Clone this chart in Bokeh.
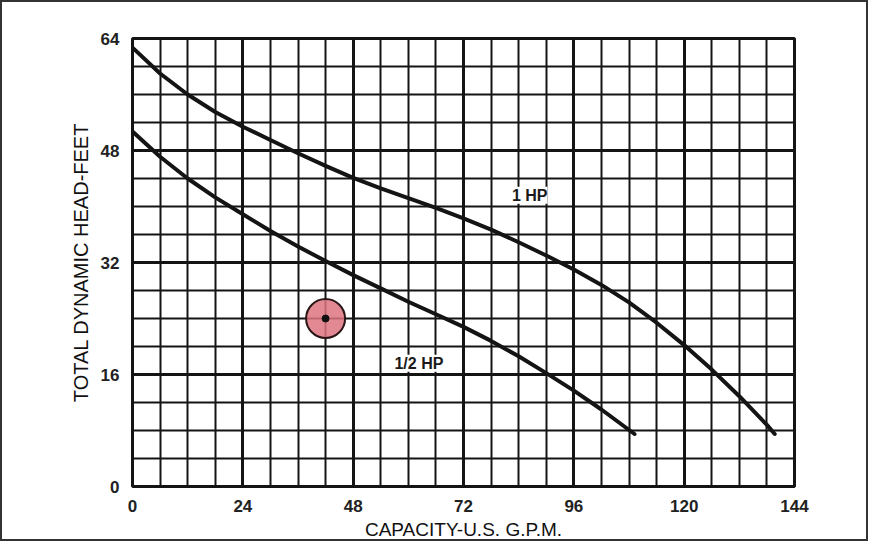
from bokeh.plotting import figure
from bokeh.models import Range1d, FixedTicker
from bokeh.core.properties import value
from bokeh.embed import file_html
from bokeh.resources import INLINE

# ---- data ----
x_ticks = [0, 24, 48, 72, 96, 120, 144]
x_minor = list(range(0, 145, 6))
y_ticks = [0, 16, 32, 48, 64]
y_minor = list(range(0, 65, 4))

hp1_x = [0, 6, 12, 18, 24, 30, 36, 42, 48, 54, 60, 66, 72, 78, 84, 90, 96, 102, 108, 114, 120, 126, 132, 138, 139.7]
hp1_y = [62.7, 59.0, 56.0, 53.5, 51.4, 49.5, 47.6, 45.8, 44.1, 42.6, 41.2, 39.8, 38.3, 36.7, 34.9, 33.0, 31.0, 28.8, 26.3, 23.4, 20.2, 16.7, 12.9, 8.8, 7.5]

hp12_x = [0, 6, 12, 18, 24, 30, 36, 42, 48, 54, 60, 66, 72, 78, 84, 90, 96, 102, 109.2]
hp12_y = [50.7, 47.1, 44.0, 41.3, 38.9, 36.5, 34.3, 32.2, 30.2, 28.3, 26.4, 24.6, 22.8, 20.8, 18.6, 16.2, 13.7, 11.0, 7.5]

label_x = [86.4, 62.3]
label_y = [41.6, 17.6]
label_text = ["1 HP", "1/2 HP"]

marker_x = [42]
marker_y = [24]

INK = "#141414"
FONT = "Liberation Sans"

p = figure(width=868, height=541, x_range=Range1d(0, 144), y_range=Range1d(0, 64),
           output_backend="svg", toolbar_location=None,
           min_border_left=130, min_border_right=76, min_border_top=36, min_border_bottom=57)
p.styles = {"border": "2px solid #333333", "box-sizing": "border-box"}
p.background_fill_color = "white"
p.border_fill_color = "white"
p.outline_line_color = INK
p.outline_line_width = 3

p.xaxis.ticker = FixedTicker(ticks=x_ticks, minor_ticks=x_minor)
p.yaxis.ticker = FixedTicker(ticks=y_ticks, minor_ticks=y_minor)

for ax in (p.xaxis, p.yaxis):
    ax.axis_line_color = None
    ax.major_tick_line_color = None
    ax.minor_tick_line_color = None
    ax.major_label_text_font = FONT
    ax.major_label_text_font_size = "17px"
    ax.major_label_text_font_style = "bold"
    ax.major_label_text_color = "#222222"
    ax.major_label_standoff = 7
    ax.axis_label_text_font = FONT
    ax.axis_label_text_font_style = "normal"
    ax.axis_label_text_color = "#111111"
    ax.axis_label_standoff = 4

p.xaxis.axis_label_text_font_size = "19px"
p.yaxis.axis_label_text_font_size = "20px"
p.yaxis.axis_label_standoff = 6

p.xaxis.axis_label = "CAPACITY-U.S. G.P.M."
p.yaxis.axis_label = "TOTAL DYNAMIC HEAD-FEET"

for g in (p.xgrid, p.ygrid):
    g.grid_line_color = INK
    g.grid_line_width = 3
    g.grid_line_alpha = 1
    g.minor_grid_line_color = INK
    g.minor_grid_line_width = 2
    g.minor_grid_line_alpha = 1

p.line(hp1_x, hp1_y, line_color=INK, line_width=4, line_cap="round", line_join="round")
p.line(hp12_x, hp12_y, line_color=INK, line_width=4, line_cap="round", line_join="round")

p.text(x=label_x, y=label_y, text=label_text, text_align="center", text_baseline="middle",
       text_font=value(FONT), text_font_size="16px", text_font_style="bold", text_color="#1a1a1a",
       background_fill_color="white")

p.scatter(marker_x, marker_y, size=39, fill_color="#dd7480", fill_alpha=0.85,
          line_color="#2a1616", line_width=2)
p.scatter(marker_x, marker_y, size=7, fill_color="#111111", line_color="#111111")

open("out.html", "w").write(file_html(p, INLINE))
